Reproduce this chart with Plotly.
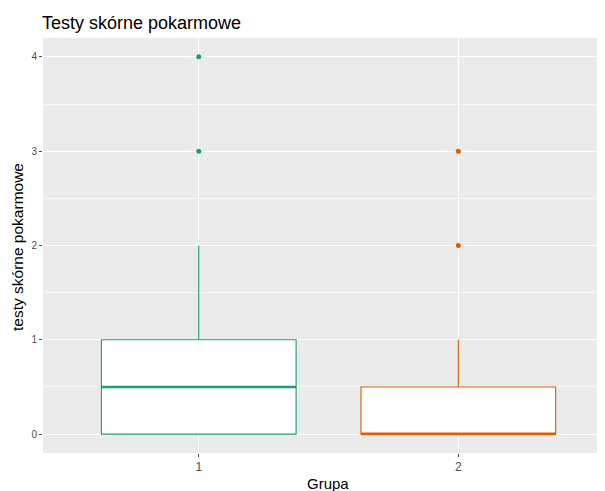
import plotly.graph_objects as go

# ---- data ----
groups = ["1", "2"]
q1 = [0, 0]
medians = [0.5, 0]
q3 = [1, 0.5]
lower_whisker = [0, 0]
upper_whisker = [2, 1]
outliers_g1 = [3, 4]
outliers_g2 = [2, 3]
outliers = [outliers_g1, outliers_g2]
colors = ["#1B9E77", "#D95F02"]

# page body has an 8px margin, so the figure is laid out in (window - 8) coordinates
W, H = 597, 483
L, T, B = 35, 30, 38
PW, PH = W - L, H - T - B

fig = go.Figure()

for i, g in enumerate(groups):
    fig.add_trace(go.Box(
        x=[g], q1=[q1[i]], median=[medians[i]], q3=[q3[i]],
        lowerfence=[lower_whisker[i]], upperfence=[upper_whisker[i]],
        width=0.75, whiskerwidth=0, fillcolor="white",
        line=dict(color=colors[i], width=1.1),
        boxpoints=False, hoverinfo="skip", showlegend=False,
    ))
    # thick median line (ggplot style)
    fig.add_trace(go.Box(
        x=[g], q1=[medians[i]], median=[medians[i]], q3=[medians[i]],
        lowerfence=[medians[i]], upperfence=[medians[i]],
        width=0.75, whiskerwidth=0, fillcolor="rgba(0,0,0,0)",
        line=dict(color=colors[i], width=2.4),
        boxpoints=False, hoverinfo="skip", showlegend=False,
    ))
    fig.add_trace(go.Scatter(
        x=[g] * len(outliers[i]), y=outliers[i], mode="markers",
        marker=dict(color=colors[i], size=5),
        hoverinfo="skip", showlegend=False,
    ))

fig.update_layout(
    width=W, height=H,
    margin=dict(l=L, r=0, t=T, b=B),
    paper_bgcolor="white", plot_bgcolor="#EBEBEB",
    boxmode="overlay",
    font=dict(family="Liberation Sans, Arial, sans-serif", color="#4D4D4D"),
    title=dict(text="Testy skórne pokarmowe", xref="container", yref="container",
               x=34 / W, xanchor="left", y=1 - 15 / H, yanchor="middle",
               font=dict(size=18, color="black")),
    annotations=[
        dict(text="Grupa", xref="paper", yref="paper", x=(320 - L) / PW,
             y=(H - B - 475) / PH, xanchor="center", yanchor="middle",
             showarrow=False, font=dict(size=15, color="black")),
        dict(text="testy skórne pokarmowe", xref="paper", yref="paper",
             x=(9 - L) / PW, y=(H - B - 239) / PH, xanchor="center",
             yanchor="middle", textangle=-90, showarrow=False,
             font=dict(size=15.5, color="black")),
    ],
)
fig.update_xaxes(
    type="category", categoryorder="array", categoryarray=groups,
    range=[-0.6, 1.565], automargin=False,
    showgrid=True, gridcolor="white", gridwidth=1.1,
    zeroline=False, showline=False,
    ticks="outside", ticklen=3, tickcolor="#4D4D4D", tickwidth=0.8,
    tickfont=dict(size=12, color="#4D4D4D"),
)
fig.update_yaxes(
    range=[-0.2, 4.2], tickvals=[0, 1, 2, 3, 4], automargin=False,
    showgrid=True, gridcolor="white", gridwidth=1.1,
    minor=dict(dtick=0.5, tick0=0, showgrid=True, gridcolor="#F7F7F7", gridwidth=0.6),
    zeroline=False, showline=False,
    ticks="outside", ticklen=3, tickcolor="#4D4D4D", tickwidth=0.8,
    tickfont=dict(size=10, color="#4D4D4D"),
)

fig.write_html("out.html")
